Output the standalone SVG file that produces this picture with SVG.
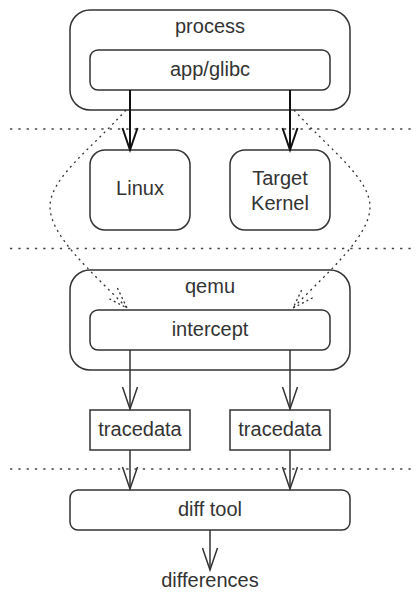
<svg xmlns="http://www.w3.org/2000/svg" width="420" height="603" viewBox="0 0 420 603">
<style>
.box{fill:#fff;stroke:#333;stroke-width:1.5}
.t{font-family:"Liberation Sans",Arial,sans-serif;font-size:20px;fill:#333;text-anchor:middle}
.sep{stroke:#444;stroke-width:1.3;stroke-dasharray:2.3 6;fill:none}
.e1{stroke:#111;stroke-width:2;fill:none}
.e2{stroke:#333;stroke-width:1.5;fill:none}
.ed{stroke:#333;stroke-width:1.3;stroke-dasharray:2 4;fill:none}
</style>
<defs>
<marker id="a1" markerUnits="userSpaceOnUse" viewBox="0 0 24 18" markerWidth="24" markerHeight="18" refX="22" refY="9" orient="auto" overflow="visible">
<path d="M0,1.5 L22,9 L0,16.5" fill="none" stroke="#111" stroke-width="2"/>
</marker>
<marker id="a2" markerUnits="userSpaceOnUse" viewBox="0 0 24 18" markerWidth="24" markerHeight="18" refX="22" refY="9" orient="auto" overflow="visible">
<path d="M0,1.5 L22,9 L0,16.5" fill="none" stroke="#333" stroke-width="1.5"/>
</marker>
<marker id="ad" markerUnits="userSpaceOnUse" viewBox="0 0 24 18" markerWidth="24" markerHeight="18" refX="21" refY="9" orient="auto" overflow="visible">
<path d="M0,2 L21,9 L0,16" fill="none" stroke="#333" stroke-width="1.3" stroke-dasharray="2 3"/>
</marker>
</defs>
<g id="separators">
<line class="sep" x1="10" y1="129" x2="412" y2="129"/>
<line class="sep" x1="10" y1="248.5" x2="412" y2="248.5"/>
<line class="sep" x1="10" y1="469" x2="412" y2="469"/>
</g>
<g id="process"><rect class="box" x="70" y="10" width="280" height="100" rx="20"/><text class="t" x="210" y="33">process</text></g>
<g id="appglibc"><rect class="box" x="90" y="50" width="240" height="40" rx="8"/><text class="t" x="210" y="76">app/glibc</text></g>
<g id="linux"><rect class="box" x="90" y="150" width="100" height="80" rx="15"/><text class="t" x="140" y="195">Linux</text></g>
<g id="target"><rect class="box" x="230" y="150" width="100" height="80" rx="15"/><text class="t" x="280" y="185">Target</text><text class="t" x="280" y="210">Kernel</text></g>
<g id="qemu"><rect class="box" x="70" y="270" width="280" height="100" rx="20"/><text class="t" x="210" y="293">qemu</text></g>
<g id="intercept"><rect class="box" x="90" y="310" width="240" height="40" rx="8"/><text class="t" x="210" y="336">intercept</text></g>
<g id="trace1"><rect class="box" x="90" y="410" width="100" height="40"/><text class="t" x="140" y="436">tracedata</text></g>
<g id="trace2"><rect class="box" x="230" y="410" width="100" height="40"/><text class="t" x="280" y="436">tracedata</text></g>
<g id="difftool"><rect class="box" x="70" y="490" width="280" height="40" rx="8"/><text class="t" x="210" y="516">diff tool</text></g>
<g id="differences"><text class="t" x="210" y="587">differences</text></g>
<g id="connectors">
<line class="e1" x1="130" y1="90" x2="130" y2="150" marker-end="url(#a1)"/>
<line class="e1" x1="290" y1="90" x2="290" y2="150" marker-end="url(#a1)"/>
<path class="ed" d="M126,110 C90,150 50,178 50,207 C50,236 92,272 127,308" marker-end="url(#ad)"/>
<path class="ed" d="M294,110 C330,150 370,178 370,207 C370,236 328,272 293,308" marker-end="url(#ad)"/>
<line class="e2" x1="130" y1="350" x2="130" y2="409" marker-end="url(#a2)"/>
<line class="e2" x1="290" y1="350" x2="290" y2="409" marker-end="url(#a2)"/>
<line class="e2" x1="130" y1="450" x2="130" y2="489" marker-end="url(#a2)"/>
<line class="e2" x1="290" y1="450" x2="290" y2="489" marker-end="url(#a2)"/>
<line class="e2" x1="210" y1="530" x2="210" y2="570" marker-end="url(#a2)"/>
</g>
</svg>
